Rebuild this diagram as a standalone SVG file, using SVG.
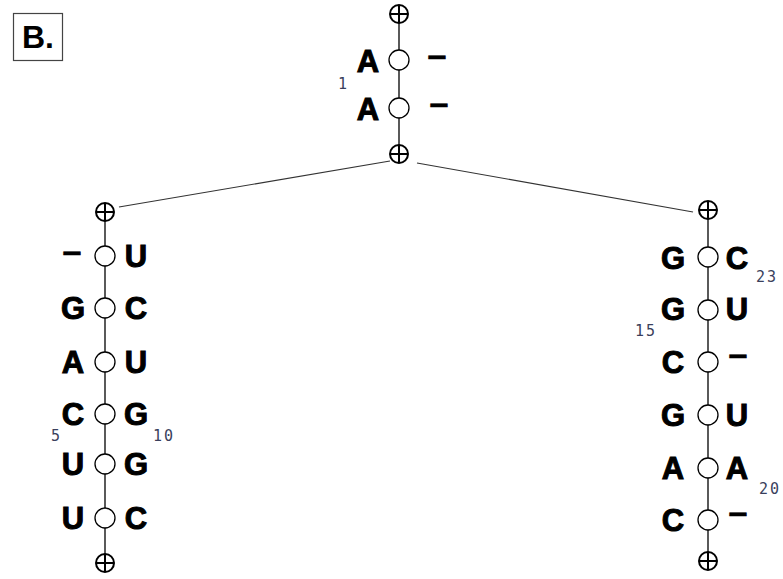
<svg xmlns="http://www.w3.org/2000/svg" width="783" height="579" viewBox="0 0 783 579">
<style>
.bg{fill:#fff}
.stem{stroke:#000;stroke-width:1.3;fill:none}
.link{stroke:#333;stroke-width:1.2;fill:none}
.nd{fill:#fff;stroke:#000;stroke-width:1.3}
.jn{fill:#fff;stroke:#000;stroke-width:2}
.jx{stroke:#000;stroke-width:2}
.b{font-family:"Liberation Sans",Arial,sans-serif;font-weight:bold;font-size:31px;text-anchor:middle;fill:#000;stroke:#000;stroke-width:1}
.d{font-family:"Liberation Sans",Arial,sans-serif;font-weight:bold;font-size:34px;text-anchor:middle;fill:#000;stroke:#000;stroke-width:0.6}
.n{font-family:"DejaVu Sans Mono",monospace;font-size:15px;letter-spacing:2px;fill:#3a3f5c}
</style>
<defs>
<g id="j"><circle class="jn" r="9"/><line class="jx" x1="-9" y1="0" x2="9" y2="0"/><line class="jx" x1="0" y1="-9" x2="0" y2="9"/></g>
</defs>
<rect class="bg" width="783" height="579"/>
<g id="label">
<rect x="13.5" y="13.5" width="49" height="47" fill="#fff" stroke="#444" stroke-width="1.2"/>
<text x="38" y="48" style="font-family:'Liberation Sans',Arial,sans-serif;font-weight:bold;font-size:32px;text-anchor:middle">B.</text>
</g>
<g id="connectors">
<line class="link" x1="390" y1="161" x2="119" y2="207"/>
<line class="link" x1="417" y1="163" x2="693" y2="212"/>
<line class="stem" x1="399" y1="14" x2="399" y2="154"/>
<line class="stem" x1="105" y1="212" x2="105" y2="563"/>
<line class="stem" x1="708" y1="210" x2="708" y2="561"/>
</g>
<g id="top-stem">
<use href="#j" x="399" y="14"/>
<circle class="nd" cx="399" cy="60" r="10"/>
<circle class="nd" cx="399" cy="108" r="10"/>
<use href="#j" x="399" y="154"/>
<text class="b" x="368" y="72">A</text>
<text class="b" x="368" y="120">A</text>
<text class="d" x="437" y="66">–</text>
<text class="d" x="439" y="114">–</text>
<text class="n" x="338" y="89">1</text>
</g>
<g id="left-stem">
<use href="#j" x="105" y="212"/>
<circle class="nd" cx="105" cy="256" r="10"/>
<circle class="nd" cx="105" cy="308" r="10"/>
<circle class="nd" cx="105" cy="362" r="10"/>
<circle class="nd" cx="105" cy="414" r="10"/>
<circle class="nd" cx="105" cy="464" r="10"/>
<circle class="nd" cx="105" cy="518" r="10"/>
<use href="#j" x="105" y="563"/>
<text class="d" x="72" y="262">–</text>
<text class="b" x="73" y="319">G</text>
<text class="b" x="73" y="373">A</text>
<text class="b" x="73" y="425">C</text>
<text class="b" x="73" y="475">U</text>
<text class="b" x="73" y="529">U</text>
<text class="b" x="136" y="267">U</text>
<text class="b" x="136" y="319">C</text>
<text class="b" x="136" y="373">U</text>
<text class="b" x="136" y="425">G</text>
<text class="b" x="136" y="475">G</text>
<text class="b" x="136" y="529">C</text>
<text class="n" x="51" y="441">5</text>
<text class="n" x="153" y="441">10</text>
</g>
<g id="right-stem">
<use href="#j" x="708" y="210"/>
<circle class="nd" cx="708" cy="257" r="10"/>
<circle class="nd" cx="708" cy="310" r="10"/>
<circle class="nd" cx="708" cy="362" r="10"/>
<circle class="nd" cx="708" cy="415" r="10"/>
<circle class="nd" cx="708" cy="468" r="10"/>
<circle class="nd" cx="708" cy="520" r="10"/>
<use href="#j" x="708" y="561"/>
<text class="b" x="673" y="269">G</text>
<text class="b" x="673" y="320">G</text>
<text class="b" x="673" y="373">C</text>
<text class="b" x="673" y="426">G</text>
<text class="b" x="673" y="479">A</text>
<text class="b" x="673" y="531">C</text>
<text class="b" x="737" y="269">C</text>
<text class="b" x="737" y="320">U</text>
<text class="d" x="738" y="365">–</text>
<text class="b" x="737" y="426">U</text>
<text class="b" x="737" y="479">A</text>
<text class="d" x="738" y="523">–</text>
<text class="n" x="756" y="282">23</text>
<text class="n" x="635" y="336">15</text>
<text class="n" x="759" y="494">20</text>
</g>
</svg>
